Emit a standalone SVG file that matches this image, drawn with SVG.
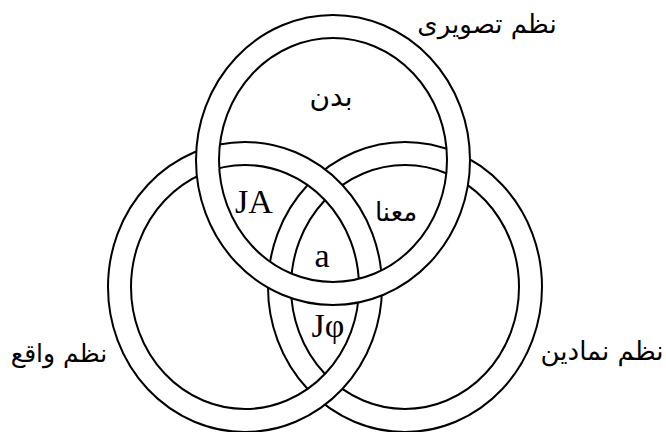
<svg xmlns="http://www.w3.org/2000/svg" width="666" height="432" viewBox="0 0 666 432">
<style>
.rb{fill:none;stroke:#000;stroke-width:25}
.rw{fill:none;stroke:#fff;stroke-width:21}
.ar{font-family:"DejaVu Sans","Noto Sans",sans-serif;fill:#000;text-anchor:middle}
.lt{font-family:"Liberation Serif","Times New Roman",serif;fill:#000;text-anchor:middle}
</style>
<rect width="666" height="432" fill="#fff"/>
<g id="connectors">
<g id="ring-right"><ellipse class="rb" cx="405" cy="287" rx="125.5" ry="133.5"/><ellipse class="rw" cx="405" cy="287" rx="125.5" ry="133.5"/></g>
<g id="ring-left"><ellipse class="rb" cx="245" cy="287" rx="125.5" ry="133.5"/><ellipse class="rw" cx="245" cy="287" rx="125.5" ry="133.5"/></g>
<g id="ring-top"><ellipse class="rb" cx="333" cy="160" rx="125.5" ry="133.5"/><ellipse class="rw" cx="333" cy="160" rx="125.5" ry="133.5"/></g>
</g>
<g id="label-top"><text class="ar" x="487" y="33" font-size="26">نظم تصویری</text></g>
<g id="label-left"><text class="ar" x="59" y="362" font-size="25">نظم واقع</text></g>
<g id="label-right"><text class="ar" x="602" y="360" font-size="26">نظم نمادین</text></g>
<g id="region-body"><text class="ar" x="331" y="106" font-size="28">بدن</text></g>
<g id="region-meaning"><text class="ar" x="396" y="221" font-size="26">معنا</text></g>
<g id="region-JA"><text class="lt" x="254" y="213" font-size="34">JA</text></g>
<g id="region-a"><text class="lt" x="322" y="267" font-size="34">a</text></g>
<g id="region-Jphi"><text class="lt" x="328" y="337" font-size="34">Jφ</text></g>
</svg>
